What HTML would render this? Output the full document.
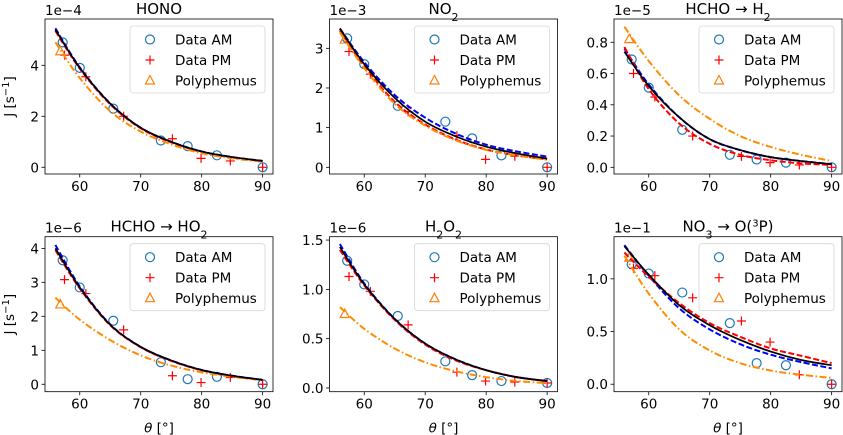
<!DOCTYPE html>
<html><head><meta charset="utf-8"><style>
body{margin:0;background:#fff}
svg{display:block;font-family:"DejaVu Sans","Liberation Sans",sans-serif}
</style></head><body>
<svg id="fig" width="843" height="435" viewBox="0 0 843 435"></svg>
<script>
const xTicks=[60,70,80,90];
const xAM=[57.2,60,65.5,73.3,77.7,82.5,90];
const xPM=[57.5,61,67.2,75.2,79.9,84.7,90];
const xFit=[56,60,65,70,75,80,85,90];
const triX=56.8;
const titles=["HONO","NO2","HCHO→H2","HCHO→HO2","H2O2","NO3→O(3P)"];
const exps=["1e−4","1e−3","1e−5","1e−6","1e−6","1e−1"];
const yLims=[[-0.263,5.816],[-0.169,3.739],[-0.0429,0.949],[-0.219,4.344],[-0.038,1.534],[-0.071,1.40]];
const yTicksAll=[[0,2,4],[0,1,2,3],[0,0.2,0.4,0.6,0.8],[0,1,2,3,4],[0,0.5,1.0,1.5],[0,0.5,1.0]];
const yTickDec=[0,0,1,0,1,1];
const amVals=[[4.9,3.9,2.3,1.05,0.83,0.47,0],[3.25,2.6,1.55,1.15,0.73,0.3,0],[0.69,0.51,0.24,0.08,0.05,0.03,0],[3.65,2.85,1.87,0.65,0.15,0.22,0],[1.29,1.05,0.73,0.27,0.13,0.07,0.05],[1.14,1.05,0.87,0.58,0.2,0.18,0]];
const pmVals=[[4.4,3.55,2.0,1.12,0.35,0.25,0],[2.92,2.35,1.4,0.8,0.2,0.28,0],[0.6,0.45,0.2,0.07,0.03,0.015,0],[3.08,2.67,1.6,0.25,0.05,0.2,0],[1.13,0.98,0.64,0.16,0.07,0.06,0.05],[1.1,1.03,0.82,0.6,0.4,0.09,0]];
const triVals=[4.55,3.22,0.82,2.35,0.75,1.2];
const fitBlack=[[5.4,3.9,2.5,1.55,1.0,0.62,0.4,0.25],[3.5,2.6,1.75,1.15,0.78,0.52,0.35,0.22],[0.74,0.52,0.32,0.18,0.11,0.065,0.04,0.02],[4.0,2.85,1.75,1.1,0.7,0.42,0.25,0.13],[1.43,1.05,0.7,0.45,0.29,0.18,0.11,0.07],[1.31,1.04,0.75,0.56,0.42,0.31,0.23,0.18]];
const fitBlue=[[5.45,3.92,2.5,1.55,1.0,0.62,0.4,0.25],[3.5,2.65,1.82,1.25,0.85,0.57,0.4,0.27],[0.76,0.53,0.32,0.18,0.11,0.065,0.04,0.02],[4.1,2.88,1.76,1.1,0.7,0.42,0.25,0.13],[1.46,1.06,0.7,0.45,0.29,0.18,0.11,0.07],[1.32,1.03,0.72,0.52,0.38,0.28,0.21,0.15]];
const fitRed=[[5.35,3.87,2.47,1.53,0.98,0.6,0.39,0.24],[3.45,2.55,1.65,1.08,0.7,0.45,0.3,0.2],[0.77,0.5,0.28,0.15,0.08,0.045,0.025,0.015],[3.95,2.82,1.74,1.09,0.69,0.41,0.24,0.12],[1.4,1.04,0.69,0.44,0.28,0.18,0.11,0.07],[1.25,1.02,0.77,0.58,0.45,0.34,0.27,0.2]];
const fitPoly=[[4.9,3.5,2.2,1.4,0.9,0.55,0.35,0.22],[3.4,2.5,1.6,1.05,0.68,0.44,0.3,0.19],[0.9,0.68,0.46,0.31,0.2,0.13,0.08,0.04],[2.55,1.9,1.3,0.85,0.55,0.35,0.22,0.12],[0.82,0.6,0.4,0.26,0.17,0.11,0.07,0.05],[1.22,0.86,0.52,0.32,0.2,0.13,0.09,0.06]];

const NS="http://www.w3.org/2000/svg";
const svg=document.getElementById('fig');
function mk(tag,attrs,parent){const e=document.createElementNS(NS,tag);for(const k in attrs)e.setAttribute(k,attrs[k]);(parent||svg).appendChild(e);return e;}
const colL=[45,329.5,614],W=228,rowT=[19,236.7],H=155;
const titleHTML=["HONO",'NO<tspan baseline-shift="sub" font-size="11">2</tspan>','HCHO → H<tspan baseline-shift="sub" font-size="11">2</tspan>','HCHO → HO<tspan baseline-shift="sub" font-size="11">2</tspan>','H<tspan baseline-shift="sub" font-size="11">2</tspan>O<tspan baseline-shift="sub" font-size="11">2</tspan>','NO<tspan baseline-shift="sub" font-size="11">3</tspan> → O(<tspan baseline-shift="super" font-size="10">3</tspan>P)'];
function smooth(pts){let d=`M${pts[0][0]},${pts[0][1]}`;for(let i=0;i<pts.length-1;i++){const p0=pts[Math.max(0,i-1)],p1=pts[i],p2=pts[i+1],p3=pts[Math.min(pts.length-1,i+2)];const c1=[p1[0]+(p2[0]-p0[0])/6,p1[1]+(p2[1]-p0[1])/6],c2=[p2[0]-(p3[0]-p1[0])/6,p2[1]-(p3[1]-p1[1])/6];d+=` C${c1[0]},${c1[1]} ${c2[0]},${c2[1]} ${p2[0]},${p2[1]}`;}return d;}
for(let p=0;p<6;p++){
  const L=colL[p%3],T=rowT[Math.floor(p/3)],R=L+W,B=T+H;
  const [y0,y1]=yLims[p];
  const sx=x=>L+(x-54.3)/(91.7-54.3)*W;
  const sy=y=>B-(y-y0)/(y1-y0)*H;
  const g=mk('g',{});
  
  
  xTicks.forEach(t=>{mk('line',{x1:sx(t),x2:sx(t),y1:B,y2:B+3.5,stroke:'#000','stroke-width':0.8},g);
    const tx=mk('text',{x:sx(t),y:B+17,'text-anchor':'middle','font-size':13.5},g);tx.textContent=t;
    });
  yTicksAll[p].forEach(t=>{mk('line',{x1:L-3.5,x2:L,y1:sy(t),y2:sy(t),stroke:'#000','stroke-width':0.8},g);
    const tx=mk('text',{x:L-6,y:sy(t)+5,'text-anchor':'end','font-size':13.5},g);tx.textContent=t.toFixed(yTickDec[p]);
    });
  const clip=mk('clipPath',{id:'c'+p},g);mk('rect',{x:L,y:T,width:W,height:H},clip);
  const pg=mk('g',{'clip-path':`url(#c${p})`},g);
  xAM.forEach((x,i)=>{const c=mk('circle',{cx:sx(x),cy:sy(amVals[p][i]),r:4.5,fill:'none',stroke:'#1f77b4','stroke-width':1.2},pg);
    });
  xPM.forEach((x,i)=>{const cx=sx(x),cy=sy(pmVals[p][i]);const e=mk('path',{d:`M${cx-4.5},${cy}H${cx+4.5}M${cx},${cy-4.5}V${cy+4.5}`,stroke:'red','stroke-width':1.2},pg);
    });
  {const cx=sx(triX),cy=sy(triVals[p]);const e=mk('path',{d:`M${cx},${cy-5}L${cx+4.5},${cy+3.5}L${cx-4.5},${cy+3.5}Z`,fill:'none',stroke:'#ff7f0e','stroke-width':1.2},pg);
    }
  const lines=[[fitBlue,'#0000ff','6,2.5',2,'fit-am-line'],[fitRed,'#ff0000','6,2.5',2,'fit-pm-line'],[fitPoly,'#ff8c00','7,2.5,1.5,2.5',2,'polyphemus-line'],[fitBlack,'#000','',1.7,'fit-all-line']];
  lines.forEach(([arr,col,da,w,nm])=>{const pts=xFit.map((x,i)=>[sx(x),sy(arr[p][i])]);
    const e=mk('path',{d:smooth(pts),fill:'none',stroke:col,'stroke-width':w,'stroke-dasharray':da},pg);
    });
  mk('rect',{x:L,y:T,width:W,height:H,fill:'none',stroke:'#000','stroke-width':0.8},g);
  const lg=mk('g',{},g);
  const lx=L+85,ly=T+7;
  mk('rect',{x:lx,y:ly,width:135,height:67,rx:3,fill:'#fff','fill-opacity':0.8,stroke:'#d6d6d6','stroke-width':0.8},lg);
  const labs=['Data AM','Data PM','Polyphemus'];
  labs.forEach((s,i)=>{const cy=ly+13.5+i*20.5,cx=lx+20;
    if(i==0)mk('circle',{cx,cy,r:4.5,fill:'none',stroke:'#1f77b4','stroke-width':1.2},lg);
    if(i==1)mk('path',{d:`M${cx-4.5},${cy}H${cx+4.5}M${cx},${cy-4.5}V${cy+4.5}`,stroke:'red','stroke-width':1.2},lg);
    if(i==2)mk('path',{d:`M${cx},${cy-5}L${cx+4.5},${cy+3.5}L${cx-4.5},${cy+3.5}Z`,fill:'none',stroke:'#ff7f0e','stroke-width':1.2},lg);
    const t=mk('text',{x:lx+45,y:cy+5,'font-size':13.5},lg);t.textContent=s;
    });
  const ti=mk('text',{x:L+W/2,y:T-5,'text-anchor':'middle','font-size':15},g);ti.innerHTML=titleHTML[p];
  
  const ex=mk('text',{x:L,y:T-4,'font-size':13.5},g);ex.textContent=exps[p];
  
  if(p%3==0){const yl=mk('text',{x:0,y:0,'text-anchor':'middle','font-size':13.5,transform:`translate(14,${T+H/2}) rotate(-90)`},g);
    yl.innerHTML='J [s<tspan baseline-shift="super" font-size="10">−1</tspan>]';
    }
  if(p>=3){const xl=mk('text',{x:L+W/2,y:B+41,'text-anchor':'middle','font-size':13.5},g);
    xl.innerHTML='<tspan font-style="italic">θ</tspan> [°]';
    }
}
</script>
</body></html>
